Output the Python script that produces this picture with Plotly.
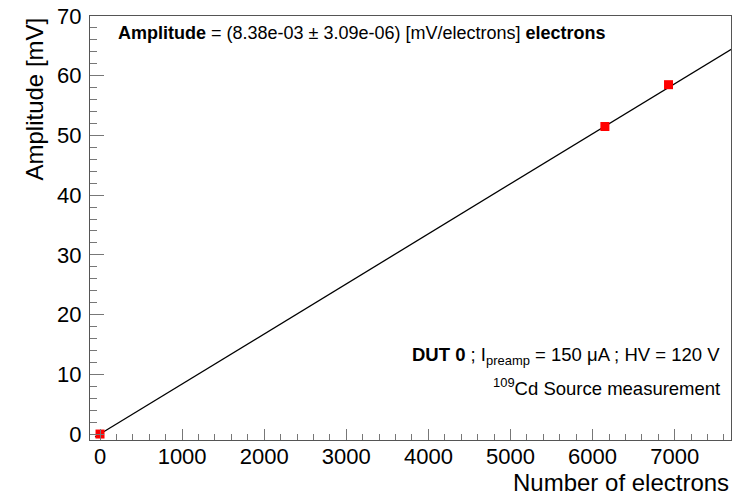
import plotly.graph_objects as go

# Data
n_electrons = [0, 6150, 6925]
amplitude_mv = [0.0, 51.5, 58.5]
fit_slope = 8.38e-03
fit_x = [-60, 7690]
fit_y = [fit_slope * v for v in fit_x]

x_ticks = [0, 1000, 2000, 3000, 4000, 5000, 6000, 7000]
y_ticks = [0, 10, 20, 30, 40, 50, 60, 70]

FONT = "Liberation Sans, Arial, Helvetica, sans-serif"

fig = go.Figure()
fig.add_trace(go.Scatter(x=fit_x, y=fit_y, mode="lines",
                         line=dict(color="black", width=1.3), showlegend=False))
fig.add_trace(go.Scatter(x=n_electrons, y=amplitude_mv, mode="markers",
                         marker=dict(symbol="square", color="#ff0000", size=9,
                                     line=dict(width=0)),
                         showlegend=False))

axis_common = dict(showgrid=False, zeroline=False, showline=True, linecolor="#555",
                   linewidth=1, mirror=True, ticks="inside", tickcolor="#777",
                   tickwidth=1, tickfont=dict(family=FONT, size=22, color="black"))

fig.update_xaxes(range=[-122, 7686], tickvals=x_ticks, ticklen=11, ticklabelstandoff=-3,
                 minor=dict(dtick=200, ticks="inside", ticklen=6, tickcolor="#777"),
                 **axis_common)
fig.update_yaxes(range=[-1, 70], tickvals=y_ticks, ticklen=14, ticklabelstandoff=3,
                 minor=dict(dtick=2, ticks="inside", ticklen=7, tickcolor="#777"),
                 **axis_common)

fig.update_layout(
    width=733, height=495,
    margin=dict(l=90, r=2, t=16, b=55),
    plot_bgcolor="white", paper_bgcolor="white",
    font=dict(family=FONT, color="black"),
    annotations=[
        dict(text="Number of electrons", xref="paper", yref="paper", x=1.0, y=0,
             xanchor="right", yanchor="top", yshift=-27, showarrow=False,
             font=dict(size=24)),
        dict(text="Amplitude [mV]", xref="paper", yref="paper", x=0, y=1.0,
             xanchor="center", yanchor="top", xshift=-56, textangle=-90,
             showarrow=False, font=dict(size=24)),
        dict(text="<b>Amplitude</b> = (8.38e-03 ± 3.09e-06) [mV/electrons] <b>electrons</b>",
             xref="paper", yref="paper", x=0, y=1.0, xanchor="left", yanchor="middle",
             xshift=26, yshift=-17, showarrow=False, font=dict(size=18)),
        dict(text="<b>DUT 0</b> ; I<sub>preamp</sub> = 150 μA ; HV = 120 V",
             xref="paper", yref="paper", x=1.0, y=0, xanchor="right", yanchor="middle",
             xshift=-9, yshift=84, showarrow=False, font=dict(size=18.5)),
        dict(text="<sup>109</sup>Cd Source measurement",
             xref="paper", yref="paper", x=1.0, y=0, xanchor="right", yanchor="middle",
             xshift=-9, yshift=53, showarrow=False, font=dict(size=18.5)),
    ],
)

fig.write_html("out.html", config={"displayModeBar": False},
               post_script="document.body.style.margin='0';document.body.style.padding='0';")
